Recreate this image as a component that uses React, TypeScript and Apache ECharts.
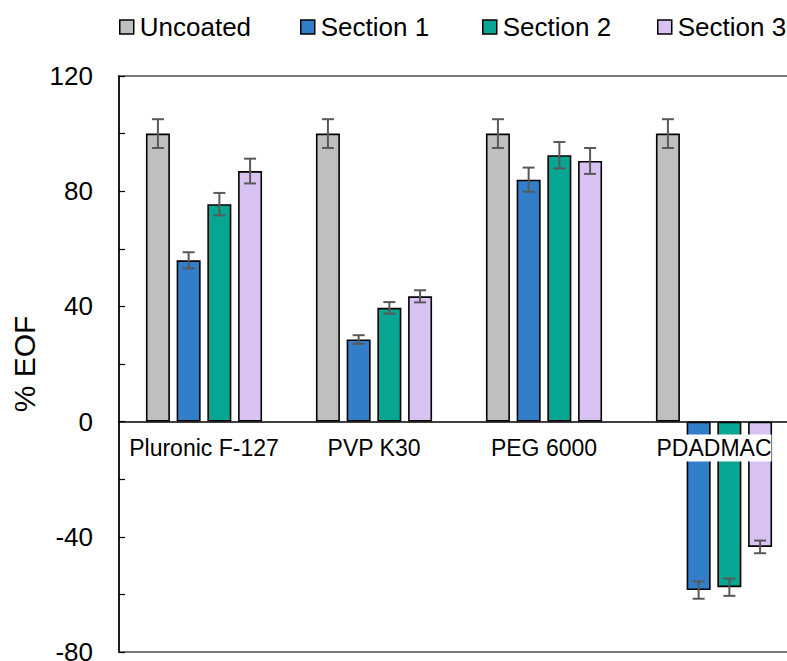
import React, { useEffect, useRef } from "react";
import * as echarts from "echarts";

const categories = ["Pluronic F-127", "PVP K30", "PEG 6000", "PDADMAC"];
const seriesNames = ["Uncoated", "Section 1", "Section 2", "Section 3"];
const uncoated = [100, 100, 100, 100];
const section1 = [56, 28.5, 84, -58.5];
const section2 = [75.5, 39.5, 92.5, -57.5];
const section3 = [87, 43.5, 90.5, -43.5];
const uncoatedErr = [5, 5, 5, 5];
const section1Err = [2.8, 1.5, 4.2, 3];
const section2Err = [3.9, 2, 4.6, 3];
const section3Err = [4.3, 2.1, 4.5, 2.2];
const yTicks = [-80, -40, 0, 40, 80, 120];

const colors = ["#BFBFBF", "#337EC9", "#06A692", "#D8C2F2"];
const legendLefts = [119, 300, 482, 657];
const FONT = "'Liberation Sans', Arial, sans-serif";
const BAR_W = 24;
const BAR_GAP = 0.28;
const GRID_TOP = 76;
const GRID_BOTTOM_Y = 652;
const H = 661;

export default function App() {
  const ref = useRef<HTMLDivElement>(null);
  useEffect(() => {
    if (!ref.current) return;
    const chart = echarts.init(ref.current, undefined, { renderer: "svg" });
    const values = [uncoated, section1, section2, section3];
    const errs = [uncoatedErr, section1Err, section2Err, section3Err];
    const pitch = BAR_W * (1 + BAR_GAP);
    const yMin = yTicks[0];
    const yMax = yTicks[yTicks.length - 1];
    const plotH = GRID_BOTTOM_Y - GRID_TOP;
    const zeroOffset = -((0 - yMin) / (yMax - yMin)) * plotH;

    const barSeries = values.map((vals, i) => ({
      name: seriesNames[i],
      type: "bar",
      data: vals,
      barWidth: BAR_W,
      barGap: `${BAR_GAP * 100}%`,
      itemStyle: { color: colors[i], borderColor: "#000", borderWidth: 1.6 },
      z: 2,
    }));

    const errSeries = values.map((vals, i) => ({
      name: "err" + i,
      type: "custom",
      z: 4,
      data: vals.map((v, k) => [k, v, errs[i][k]]),
      encode: { x: 0, y: 1 },
      renderItem: (params: any, api: any) => {
        const idx = api.value(0);
        const v = api.value(1);
        const e = api.value(2);
        const hi = api.coord([idx, v + e]);
        const lo = api.coord([idx, v - e]);
        const cx = hi[0] + (i - 1.5) * pitch;
        const style = { stroke: "#595959", lineWidth: 2 };
        const cap = 6;
        return {
          type: "group",
          children: [
            { type: "line", shape: { x1: cx, y1: hi[1], x2: cx, y2: lo[1] }, style },
            { type: "line", shape: { x1: cx - cap, y1: hi[1], x2: cx + cap, y2: hi[1] }, style },
            { type: "line", shape: { x1: cx - cap, y1: lo[1], x2: cx + cap, y2: lo[1] }, style },
          ],
        };
      },
    }));

    const legends = seriesNames.map((name, i) => ({
      data: [name],
      left: legendLefts[i],
      top: 14,
      padding: 0,
      itemWidth: 14,
      itemHeight: 14,
      icon: "rect",
      itemStyle: { borderColor: "#000", borderWidth: 1.5 },
      textStyle: { fontSize: 26, color: "#000", fontFamily: FONT, padding: [0, 0, 0, 1] },
    }));

    chart.setOption({
      animation: false,
      textStyle: { fontFamily: FONT },
      legend: legends,
      grid: {
        left: 119,
        right: -12,
        top: GRID_TOP,
        bottom: H - GRID_BOTTOM_Y,
        show: true,
        borderColor: "#7a7a7a",
        borderWidth: 2,
        containLabel: false,
        outerBoundsMode: "none",
      },
      xAxis: {
        type: "category",
        data: categories,
        z: 10,
        position: "bottom",
        offset: zeroOffset,
        axisLine: { onZero: false, lineStyle: { color: "#000", width: 1.5 } },
        axisTick: { show: false },
        axisLabel: {
          fontSize: 23,
          color: "#000",
          fontFamily: FONT,
          margin: 13,
          backgroundColor: "#fff",
          padding: [2, 0, 2, 0],
          interval: 0,
        },
      },
      yAxis: {
        type: "value",
        min: yMin,
        max: yMax,
        interval: 20,
        axisLine: { show: true, onZero: false, lineStyle: { color: "#000", width: 1.5 } },
        axisTick: { show: true, inside: true, length: 6, lineStyle: { color: "#000", width: 1.2 } },
        splitLine: { show: false },
        axisLabel: {
          fontSize: 26,
          color: "#000",
          fontFamily: FONT,
          margin: 26,
          formatter: (v: number) => (yTicks.includes(v) ? String(v) : ""),
        },
      },
      graphic: [
        {
          type: "text",
          x: 24,
          y: (GRID_TOP + GRID_BOTTOM_Y) / 2,
          rotation: Math.PI / 2,
          style: {
            text: "% EOF",
            fontSize: 30,
            fontFamily: FONT,
            fill: "#000",
            textAlign: "center",
            textVerticalAlign: "middle",
          },
        },
      ],
      series: [...barSeries, ...errSeries],
    });
    return () => chart.dispose();
  }, []);
  return (
    <div
      ref={ref}
      style={{ position: "fixed", left: 0, top: 0, width: 787, height: 661, background: "#fff" }}
    />
  );
}
